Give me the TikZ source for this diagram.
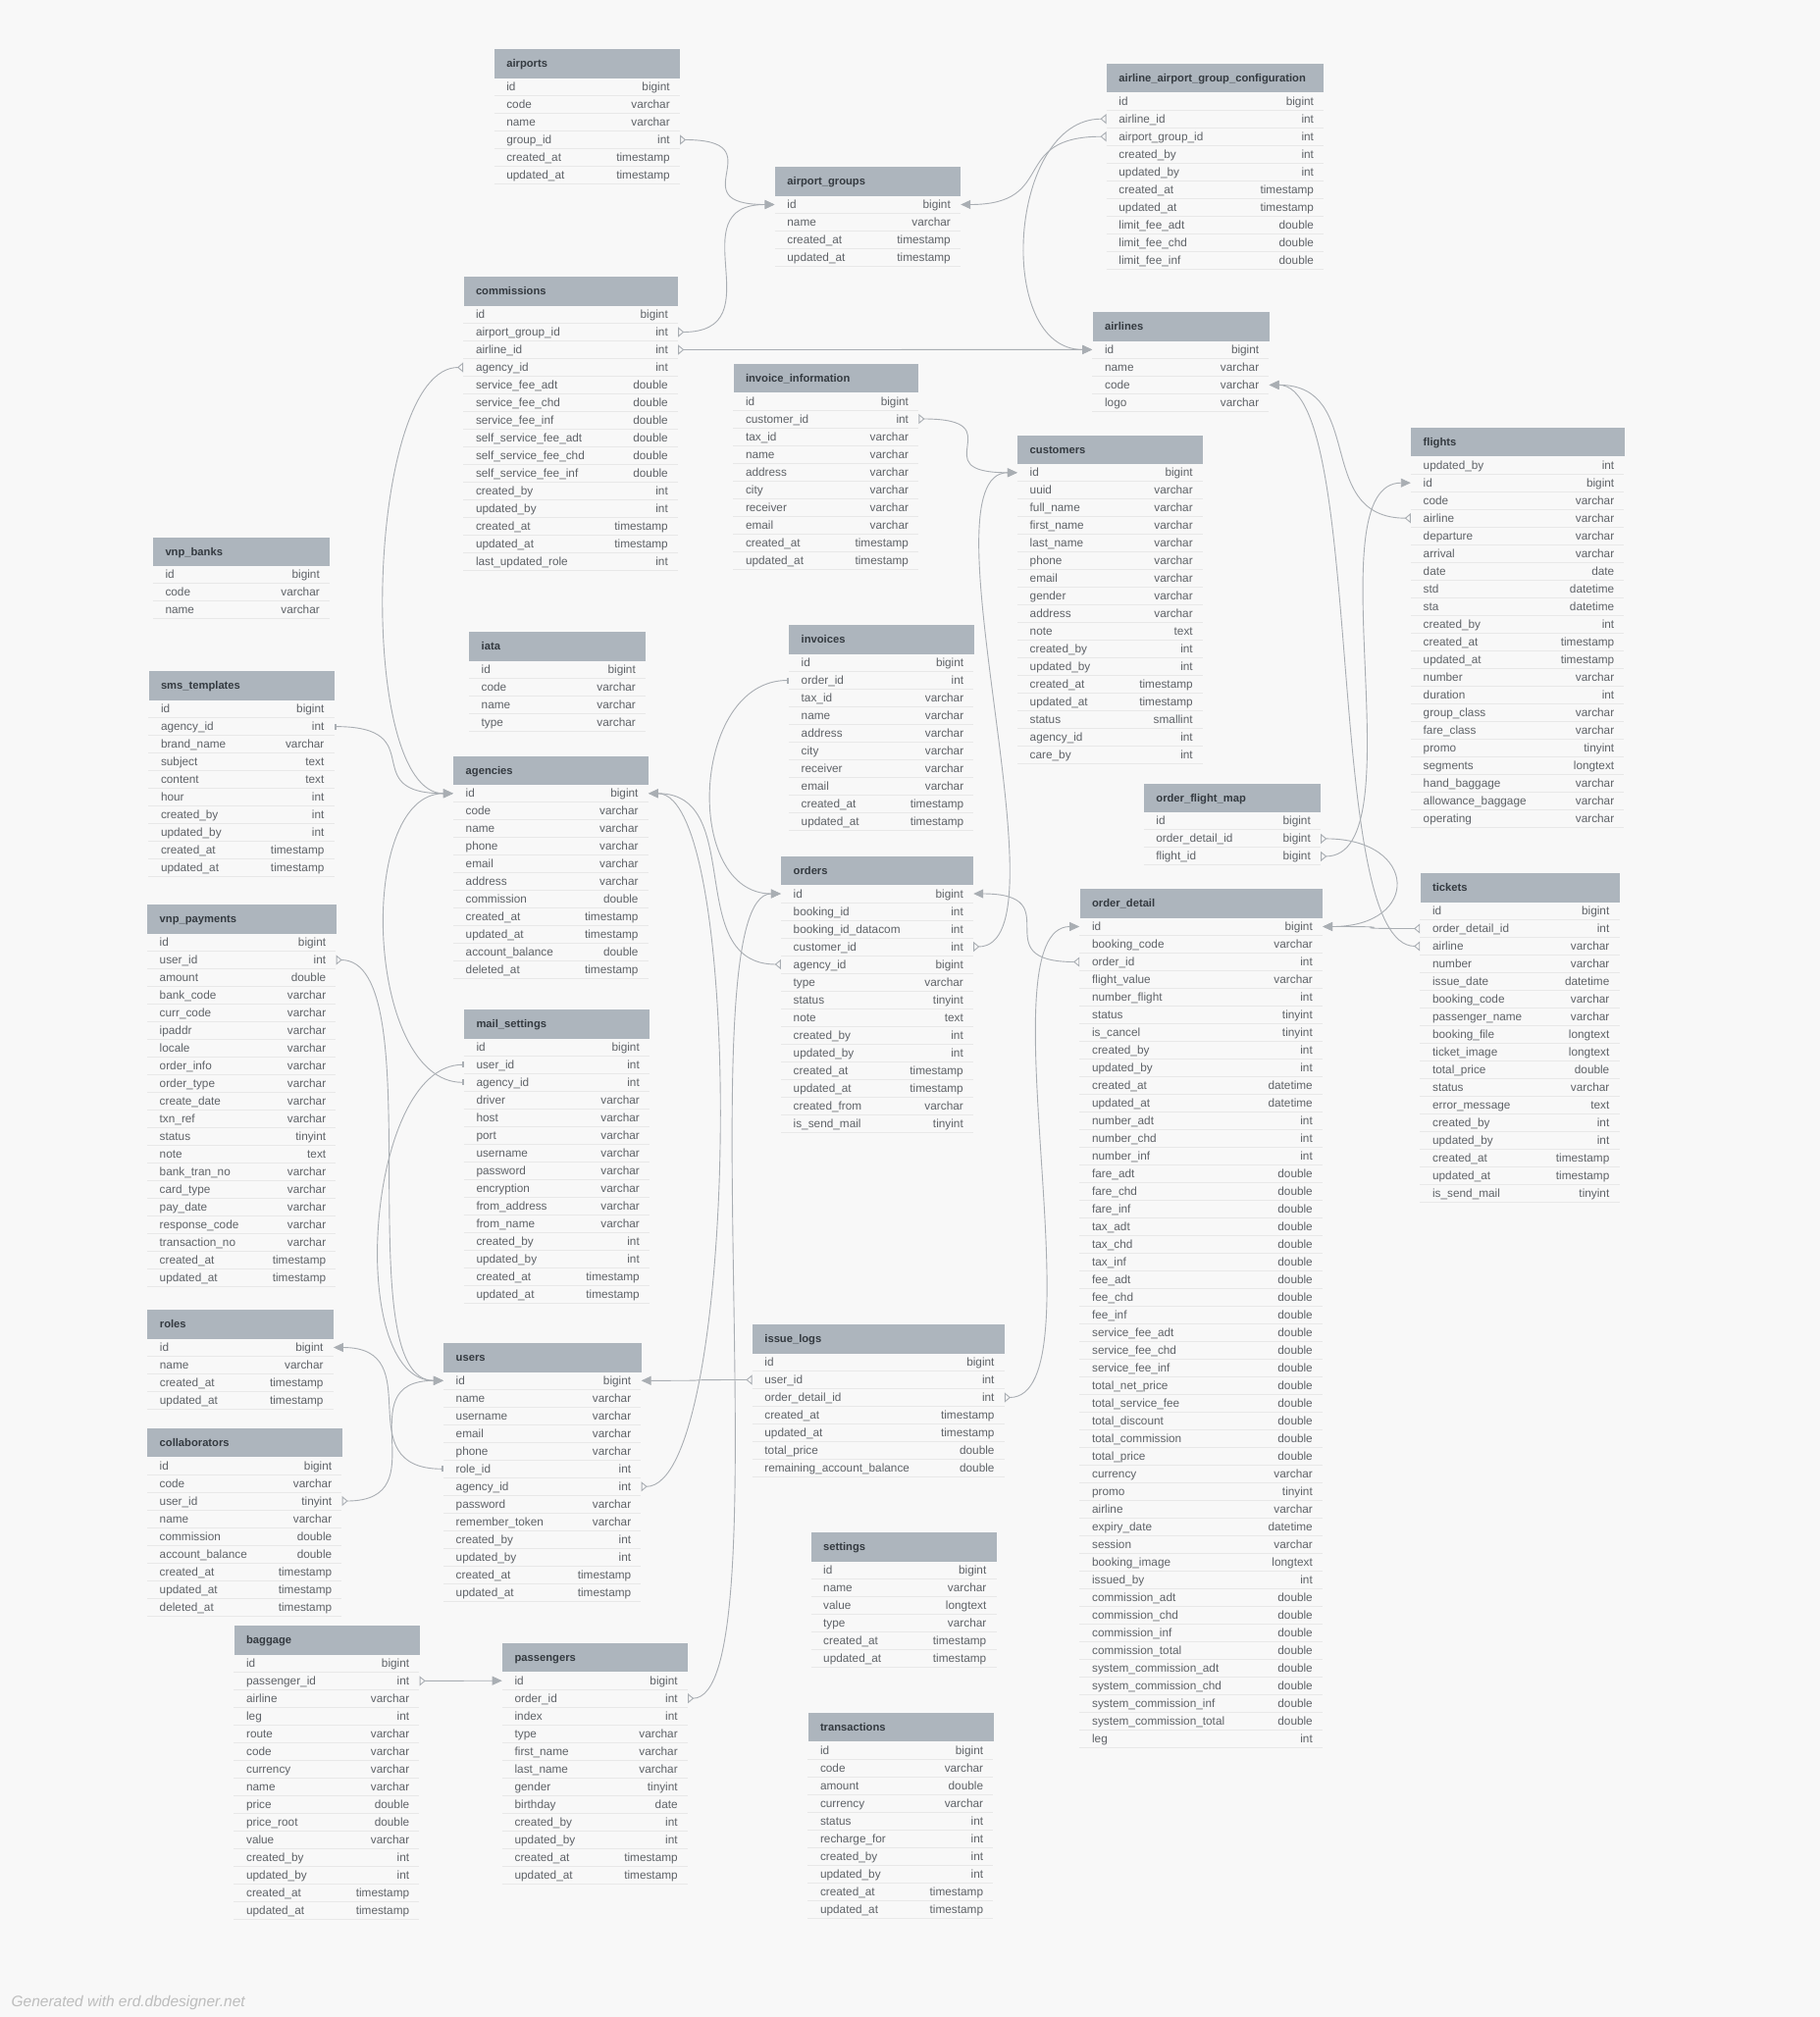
\documentclass[tikz,border=0pt]{standalone}
\usepackage{fontspec}
\setmainfont{Liberation Sans}
\usetikzlibrary{arrows.meta}
\definecolor{bg}{HTML}{F8F8F8}
\definecolor{hdr}{HTML}{ADB5BD}
\definecolor{htxt}{HTML}{343A40}
\definecolor{rtxt}{HTML}{5F6368}
\definecolor{sepc}{HTML}{E8E8E8}
\definecolor{lc}{HTML}{A9AEB3}
\definecolor{foot}{HTML}{BDBDBD}
\catcode`\_=12
\tikzset{
  hdrbox/.style={fill=hdr, inner sep=0, minimum height=29.5pt, anchor=north west},
  rowbox/.style={inner sep=0, minimum height=18pt},
  htext/.style={anchor=base west, inner sep=0, text=htxt, font=\fontsize{11.2}{13}\selectfont\bfseries},
  ntext/.style={anchor=base west, inner sep=0, text=rtxt, font=\fontsize{11.8}{14}\selectfont},
  ttext/.style={anchor=base east, inner sep=0, text=rtxt, font=\fontsize{11.8}{14}\selectfont},
  sepline/.style={draw=sepc, line width=0.9pt},
  rel/.style={draw=lc, line width=0.9pt, arrows={Triangle[open,reversed,length=6pt,width=10pt]-Triangle[length=10pt,width=9pt]}},
  relone/.style={draw=lc, line width=0.9pt, arrows={Bar[width=6pt,line width=1.8pt]-Triangle[length=10pt,width=9pt]}},
}
\newcommand\erdtab[5]{%
  \node[hdrbox, minimum width=#4pt] (#1) at (#2,#3) {};
  \node[htext] (#1-title) at ({#2+12.5},{#3+18.8}) {#1};
  \foreach \colname/\coltype [count=\i] in {#5} {
    \node[rowbox, minimum width=#4pt] (#1-\colname) at ({#2+#4/2},{#3+29.5+(\i-0.5)*18}) {};
    \node[ntext] (#1-\colname-n) at ({#2+12.5},{#3+29.5+(\i-0.5)*18+4}) {\colname};
    \node[ttext] (#1-\colname-t) at ({#2+#4-10},{#3+29.5+(\i-0.5)*18+4}) {\coltype};
    \draw[sepline] (#2,{#3+29.5+\i*18}) -- ++(#4,0);
  }%
}
\newcommand\cRL[3][rel]{\draw[#1] (#2.east) .. controls +(100,0) and +(-100,0) .. (#3.west);}
\newcommand\cRR[3][rel]{\draw[#1] (#2.east) .. controls +(100,0) and +(100,0) .. (#3.east);}
\newcommand\cLL[3][rel]{\draw[#1] (#2.west) .. controls +(-100,0) and +(-100,0) .. (#3.west);}
\newcommand\cLR[3][rel]{\draw[#1] (#2.west) .. controls +(-100,0) and +(100,0) .. (#3.east);}
\begin{document}
\begin{tikzpicture}[x=1pt,y=-1pt]
\fill[bg] (0,0) rectangle (1855,2056);
\useasboundingbox (0,0) rectangle (1855,2056);

\erdtab{airports}{503.6}{50}{189.3}{id/bigint,code/varchar,name/varchar,group_id/int,created_at/timestamp,updated_at/timestamp}
\erdtab{airport_groups}{789.7}{170}{189.3}{id/bigint,name/varchar,created_at/timestamp,updated_at/timestamp}
\erdtab{airline_airport_group_configuration}{1127.7}{64.7}{221.5}{id/bigint,airline_id/int,airport_group_id/int,created_by/int,updated_by/int,created_at/timestamp,updated_at/timestamp,limit_fee_adt/double,limit_fee_chd/double,limit_fee_inf/double}
\erdtab{commissions}{472.3}{282}{218.7}{id/bigint,airport_group_id/int,airline_id/int,agency_id/int,service_fee_adt/double,service_fee_chd/double,service_fee_inf/double,self_service_fee_adt/double,self_service_fee_chd/double,self_service_fee_inf/double,created_by/int,updated_by/int,created_at/timestamp,updated_at/timestamp,last_updated_role/int}
\erdtab{airlines}{1113.4}{317.9}{180}{id/bigint,name/varchar,code/varchar,logo/varchar}
\erdtab{invoice_information}{747.3}{370.5}{188.9}{id/bigint,customer_id/int,tax_id/varchar,name/varchar,address/varchar,city/varchar,receiver/varchar,email/varchar,created_at/timestamp,updated_at/timestamp}
\erdtab{customers}{1037}{443.3}{188.9}{id/bigint,uuid/varchar,full_name/varchar,first_name/varchar,last_name/varchar,phone/varchar,email/varchar,gender/varchar,address/varchar,note/text,created_by/int,updated_by/int,created_at/timestamp,updated_at/timestamp,status/smallint,agency_id/int,care_by/int}
\erdtab{flights}{1438}{435.7}{217.4}{updated_by/int,id/bigint,code/varchar,airline/varchar,departure/varchar,arrival/varchar,date/date,std/datetime,sta/datetime,created_by/int,created_at/timestamp,updated_at/timestamp,number/varchar,duration/int,group_class/varchar,fare_class/varchar,promo/tinyint,segments/longtext,hand_baggage/varchar,allowance_baggage/varchar,operating/varchar}
\erdtab{vnp_banks}{155.8}{547.3}{180.2}{id/bigint,code/varchar,name/varchar}
\erdtab{iata}{478}{644}{180}{id/bigint,code/varchar,name/varchar,type/varchar}
\erdtab{invoices}{804}{637}{188.4}{id/bigint,order_id/int,tax_id/varchar,name/varchar,address/varchar,city/varchar,receiver/varchar,email/varchar,created_at/timestamp,updated_at/timestamp}
\erdtab{sms_templates}{151.3}{684.1}{189.3}{id/bigint,agency_id/int,brand_name/varchar,subject/text,content/text,hour/int,created_by/int,updated_by/int,created_at/timestamp,updated_at/timestamp}
\erdtab{agencies}{462}{770.3}{198.7}{id/bigint,code/varchar,name/varchar,phone/varchar,email/varchar,address/varchar,commission/double,created_at/timestamp,updated_at/timestamp,account_balance/double,deleted_at/timestamp}
\erdtab{order_flight_map}{1165.7}{798.4}{180.3}{id/bigint,order_detail_id/bigint,flight_id/bigint}
\erdtab{orders}{796}{872.5}{196}{id/bigint,booking_id/int,booking_id_datacom/int,customer_id/int,agency_id/bigint,type/varchar,status/tinyint,note/text,created_by/int,updated_by/int,created_at/timestamp,updated_at/timestamp,created_from/varchar,is_send_mail/tinyint}
\erdtab{tickets}{1447.4}{890}{203.1}{id/bigint,order_detail_id/int,airline/varchar,number/varchar,issue_date/datetime,booking_code/varchar,passenger_name/varchar,booking_file/longtext,ticket_image/longtext,total_price/double,status/varchar,error_message/text,created_by/int,updated_by/int,created_at/timestamp,updated_at/timestamp,is_send_mail/tinyint}
\erdtab{order_detail}{1100.4}{906}{247.6}{id/bigint,booking_code/varchar,order_id/int,flight_value/varchar,number_flight/int,status/tinyint,is_cancel/tinyint,created_by/int,updated_by/int,created_at/datetime,updated_at/datetime,number_adt/int,number_chd/int,number_inf/int,fare_adt/double,fare_chd/double,fare_inf/double,tax_adt/double,tax_chd/double,tax_inf/double,fee_adt/double,fee_chd/double,fee_inf/double,service_fee_adt/double,service_fee_chd/double,service_fee_inf/double,total_net_price/double,total_service_fee/double,total_discount/double,total_commission/double,total_price/double,currency/varchar,promo/tinyint,airline/varchar,expiry_date/datetime,session/varchar,booking_image/longtext,issued_by/int,commission_adt/double,commission_chd/double,commission_inf/double,commission_total/double,system_commission_adt/double,system_commission_chd/double,system_commission_inf/double,system_commission_total/double,leg/int}
\erdtab{vnp_payments}{150}{922}{192.4}{id/bigint,user_id/int,amount/double,bank_code/varchar,curr_code/varchar,ipaddr/varchar,locale/varchar,order_info/varchar,order_type/varchar,create_date/varchar,txn_ref/varchar,status/tinyint,note/text,bank_tran_no/varchar,card_type/varchar,pay_date/varchar,response_code/varchar,transaction_no/varchar,created_at/timestamp,updated_at/timestamp}
\erdtab{mail_settings}{472.8}{1028.8}{189.2}{id/bigint,user_id/int,agency_id/int,driver/varchar,host/varchar,port/varchar,username/varchar,password/varchar,encryption/varchar,from_address/varchar,from_name/varchar,created_by/int,updated_by/int,created_at/timestamp,updated_at/timestamp}
\erdtab{roles}{150.2}{1335}{189.5}{id/bigint,name/varchar,created_at/timestamp,updated_at/timestamp}
\erdtab{issue_logs}{766.7}{1350}{257}{id/bigint,user_id/int,order_detail_id/int,created_at/timestamp,updated_at/timestamp,total_price/double,remaining_account_balance/double}
\erdtab{users}{452}{1368.8}{201.4}{id/bigint,name/varchar,username/varchar,email/varchar,phone/varchar,role_id/int,agency_id/int,password/varchar,remember_token/varchar,created_by/int,updated_by/int,created_at/timestamp,updated_at/timestamp}
\erdtab{collaborators}{150}{1455.5}{198.4}{id/bigint,code/varchar,user_id/tinyint,name/varchar,commission/double,account_balance/double,created_at/timestamp,updated_at/timestamp,deleted_at/timestamp}
\erdtab{settings}{826.5}{1562}{189}{id/bigint,name/varchar,value/longtext,type/varchar,created_at/timestamp,updated_at/timestamp}
\erdtab{baggage}{238.4}{1656.9}{189}{id/bigint,passenger_id/int,airline/varchar,leg/int,route/varchar,code/varchar,currency/varchar,name/varchar,price/double,price_root/double,value/varchar,created_by/int,updated_by/int,created_at/timestamp,updated_at/timestamp}
\erdtab{passengers}{511.9}{1674.7}{189}{id/bigint,order_id/int,index/int,type/varchar,first_name/varchar,last_name/varchar,gender/tinyint,birthday/date,created_by/int,updated_by/int,created_at/timestamp,updated_at/timestamp}
\erdtab{transactions}{823.3}{1745.5}{189}{id/bigint,code/varchar,amount/double,currency/varchar,status/int,recharge_for/int,created_by/int,updated_by/int,created_at/timestamp,updated_at/timestamp}

% relationships
\cRL{airports-group_id}{airport_groups-id}
\cRL{commissions-airport_group_id}{airport_groups-id}
\cRL{commissions-airline_id}{airlines-id}
\cLL{airline_airport_group_configuration-airline_id}{airlines-id}
\cLR{airline_airport_group_configuration-airport_group_id}{airport_groups-id}
\cLL{commissions-agency_id}{agencies-id}
\cRL{invoice_information-customer_id}{customers-id}
\cLL[relone]{invoices-order_id}{orders-id}
\cRL{orders-customer_id}{customers-id}
\cLR{orders-agency_id}{agencies-id}
\cRL[relone]{sms_templates-agency_id}{agencies-id}
\cLL[relone]{mail_settings-agency_id}{agencies-id}
\cLL[relone]{mail_settings-user_id}{users-id}
\cRL{vnp_payments-user_id}{users-id}
\cLR[relone]{users-role_id}{roles-id}
\cRL{collaborators-user_id}{users-id}
\cRR{users-agency_id}{agencies-id}
\cLR{issue_logs-user_id}{users-id}
\cRL{issue_logs-order_detail_id}{order_detail-id}
\cLR{order_detail-order_id}{orders-id}
\cRR{order_flight_map-order_detail_id}{order_detail-id}
\cRL{order_flight_map-flight_id}{flights-id}
\cLR{tickets-order_detail_id}{order_detail-id}
\cLR{tickets-airline}{airlines-code}
\cLR{flights-airline}{airlines-code}
\cRL{baggage-passenger_id}{passengers-id}
\cRL{passengers-order_id}{orders-id}

\node[anchor=base west, inner sep=0, text=foot, font=\fontsize{15.5}{18}\selectfont\itshape] (footer) at (11.4,2045.5) {Generated with erd.dbdesigner.net};
\end{tikzpicture}
\end{document}
